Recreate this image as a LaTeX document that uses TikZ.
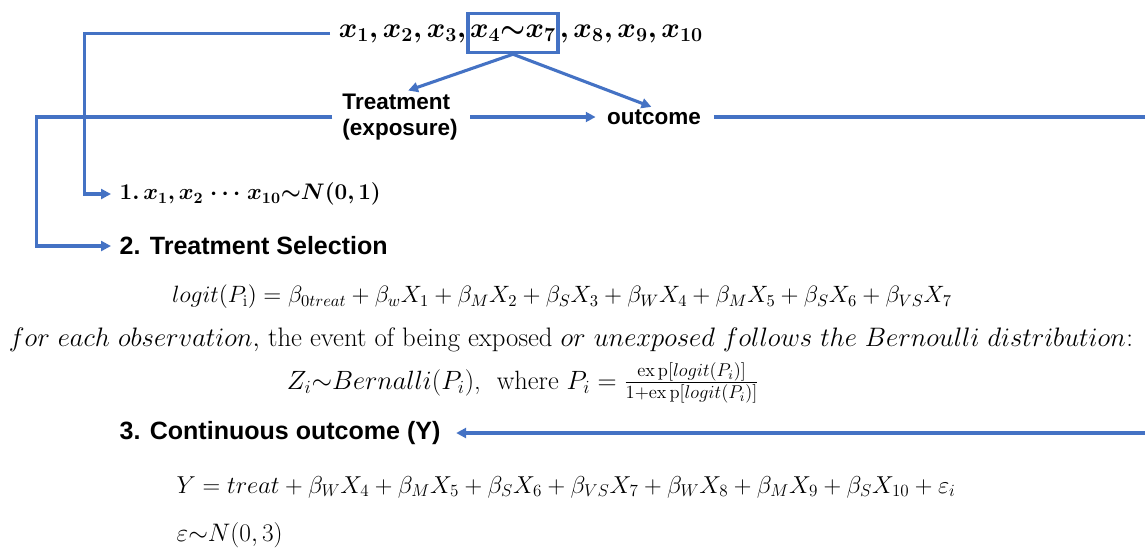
\RequirePackage{fix-cm}
\documentclass[tikz,border=0pt]{standalone}
\usepackage{amsmath, amssymb, amsfonts}
\usepackage{bm}
\usepackage{fontspec}
\newfontfamily\arialfont{Liberation Sans}
\usepackage{xcolor}
\usepackage{tikz}
\usetikzlibrary{arrows.meta, positioning}
\definecolor{linkblue}{HTML}{4472C4}

\begin{document}
\begin{tikzpicture}[x=0.025cm, y=-0.025cm, >=stealth,
    conn/.style={draw=linkblue, line width=2.2pt, -{Triangle[length=7pt, width=7pt]}},
    head/.style={font=\arialfont\bfseries\fontsize{17.8}{22}\selectfont, inner sep=1pt},
    lab/.style={font=\arialfont\bfseries\fontsize{16}{19}\selectfont, align=left, inner sep=1pt},
    eq/.style={font=\fontsize{18}{22}\selectfont, inner sep=1pt},
    bigx/.style={font=\fontsize{20}{24}\selectfont, inner sep=0pt}]
    \useasboundingbox (0,0) rectangle (1145,549);

    \node[bigx, draw=linkblue, line width=2.2pt, minimum width=64pt, minimum height=28pt] (xmid) at (513,33) {$\bm{x_4{\sim}x_7}$};
    \node[bigx, anchor=base east] (xleft) at (xmid.base west) {$\bm{x_1, x_2, x_3,}$};
    \node[bigx, anchor=base west] (xright) at (xmid.base east) {$\bm{, x_8, x_9, x_{10}}$};

    \node[lab] (treat) at (400,117) {Treatment\\(exposure)};
    \node[lab] (outc) at (654,117) {outcome};
    \draw[conn, shorten >=3pt] (xmid.south) -- ([xshift=3pt]treat.north);
    \draw[conn, shorten >=2pt] (xmid.south) -- (outc.north);
    \draw[conn, shorten <=8pt, shorten >=7pt] (treat.east) -- (outc.west);

    \node[eq, anchor=west, font=\fontsize{16}{20}\selectfont] (stepone) at (118,194) {$\bm{1.\,x_1, x_2 \ \cdots\ x_{10}{\sim}N(0,1)}$};
    \node[head, anchor=west] (steptwo) at (118,246) {2. Treatment Selection};
    \node[eq, font=\fontsize{16.8}{20}\selectfont] (logit) at (562,297) {$logit(P_{\mathrm{i}}) = \beta_{0treat} + \beta_w X_1 + \beta_M X_2 + \beta_S X_3 + \beta_W X_4 + \beta_M X_5 + \beta_S X_6 + \beta_{VS} X_7$};
    \node[eq, font=\fontsize{19}{23}\selectfont] (observe) at (571,340) {$for\ each\ observation,$ the event of being exposed $or\ unexposed\ follows\ the\ Bernoulli\ distribution$:};
    \node[eq, font=\fontsize{18.8}{22}\selectfont] (bern) at (523,383) {$Z_i{\sim}Bernalli(P_i)$,\ \ where $P_i = \frac{\mathrm{ex\,p}[logit(P_i)]}{1+\mathrm{ex\,p}[logit(P_i)]}$};
    \node[head, anchor=west] (stepthree) at (118,433) {3. Continuous outcome (Y)};
    \node[eq, anchor=west, font=\fontsize{17.4}{21}\selectfont] (outeq) at (175,487) {$Y = treat + \beta_W X_4 + \beta_M X_5 + \beta_S X_6 + \beta_{VS} X_7 + \beta_W X_8 + \beta_M X_9 + \beta_S X_{10} + \varepsilon_i$};
    \node[eq, anchor=west] (noise) at (175,535) {$\varepsilon{\sim}N(0,3)$};

    \draw[conn, shorten <=6pt, shorten >=5pt] (xleft.west) -- ++(-254,0) |- (stepone.west);
    \draw[conn, shorten <=6pt, shorten >=5pt] (treat.west) -- ++(-304,0) |- (steptwo.west);
    \draw[conn, shorten <=8pt, shorten >=10pt] (outc.east) -- ++(450,0) |- (stepthree.east);
\end{tikzpicture}
\end{document}
